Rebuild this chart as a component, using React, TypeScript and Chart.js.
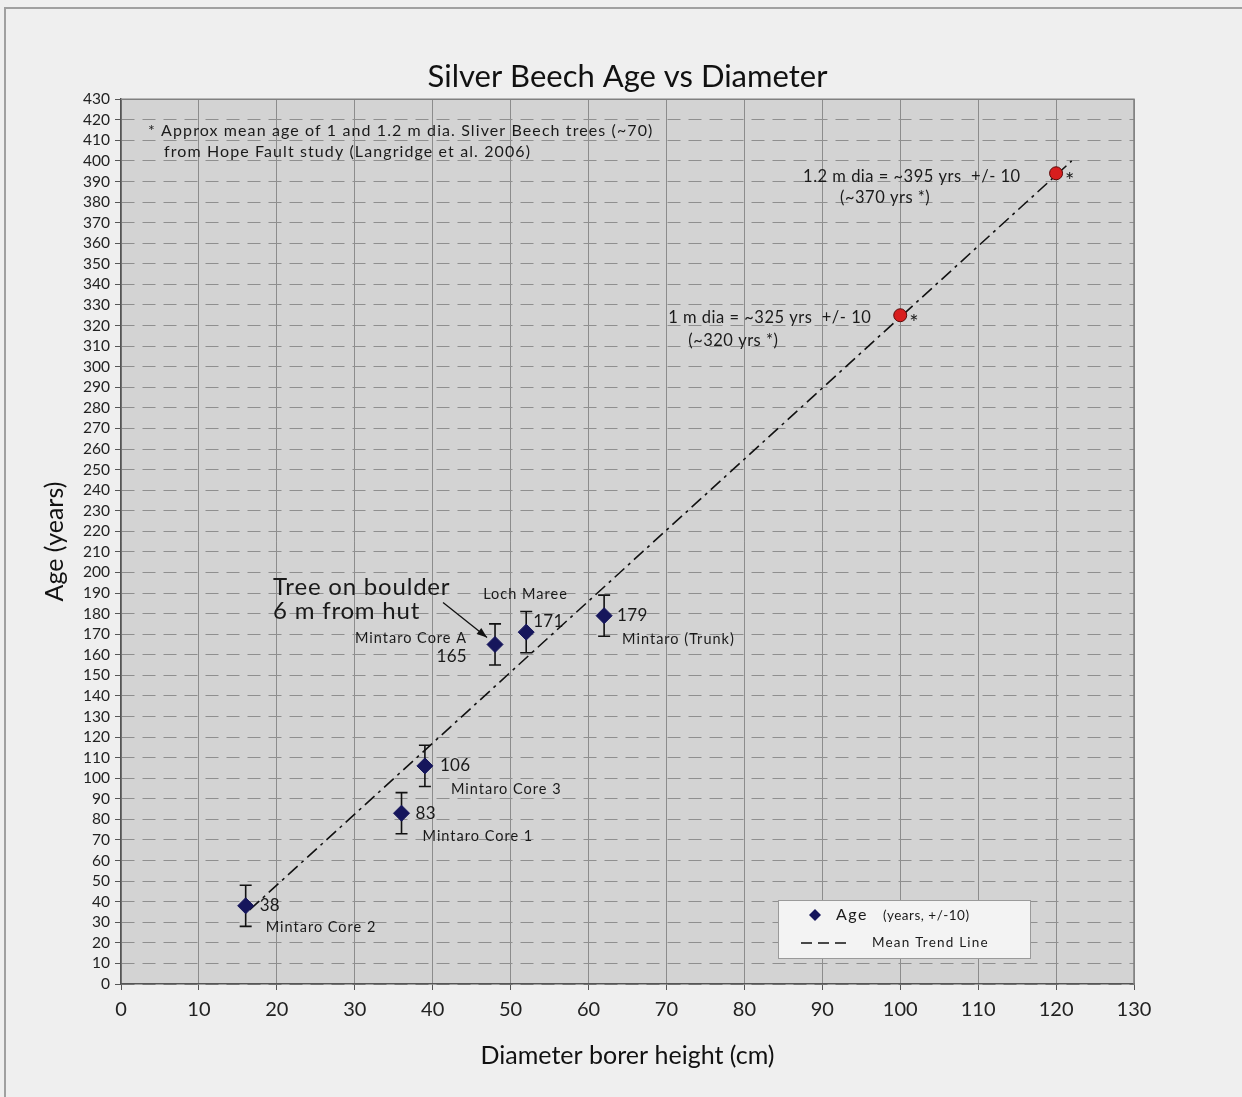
import React, { useEffect, useRef } from 'react';
import { Chart, registerables } from 'chart.js';

Chart.register(...registerables);

// ---------- data ----------
const diameters = [16, 36, 39, 48, 52, 62];
const ages = [38, 83, 106, 165, 171, 179];
const siteNames = ['Mintaro Core 2', 'Mintaro Core 1', 'Mintaro Core 3', 'Mintaro Core A', 'Loch Maree', 'Mintaro (Trunk)'];
const ageError = 10;

const projectedDiameters = [100, 120];
const projectedAges = [325, 394];
const projectedNotes = ['1 m dia = ~325 yrs  +/- 10', '1.2 m dia = ~395 yrs  +/- 10'];
const projectedRefNotes = ['(~320 yrs *)', '(~370 yrs *)'];

const trendDiameters = [16.5, 122];
const trendAges = [36, 400];

const xMin = 0;
const xMax = 130;
const xStep = 10;
const yMin = 0;
const yMax = 430;
const yStep = 10;

const titleText = 'Silver Beech Age vs Diameter';
const xTitle = 'Diameter borer height (cm)';
const yTitle = 'Age (years)';
const footnoteLines = ['* Approx mean age of 1 and 1.2 m dia. Sliver Beech trees (~70)', 'from Hope Fault study (Langridge et al. 2006)'];
const calloutLines = ['Tree on boulder', '6 m from hut'];
const calloutIndex = 3;
const legendAge = 'Age';
const legendAgeNote = '(years, +/-10)';
const legendTrend = 'Mean Trend Line';

// ---------- styles ----------
const FONT = 'Lato, "Open Sans", "Liberation Sans", sans-serif';
const valueLabelOffsets: [number, number, CanvasTextAlign][] = [
  [14, 0, 'left'], [14, 0, 'left'], [15, 0, 'left'], [-28, 12, 'right'], [7, -11, 'left'], [13, 0, 'left'],
];
const nameLabelOffsets: [number, number, CanvasTextAlign][] = [
  [20, 22, 'left'], [21, 23, 'left'], [26, 23, 'left'], [-28, -6, 'right'], [-43, -38, 'left'], [18, 24, 'left'],
];
const projNoteOffsets: [number, number][] = [[-232, 2], [-253, 3]];
const projRefOffsets: [number, number][] = [[-212, 25], [-216, 24]];

const setSpacing = (ctx: any, px: number) => {
  if ('letterSpacing' in ctx) ctx.letterSpacing = `${px}px`;
};

const backgroundPlugin = {
  id: 'backgroundPlugin',
  beforeDraw(chart: any) {
    const { ctx, width, height, chartArea: a } = chart;
    ctx.save();
    ctx.fillStyle = '#efefef';
    ctx.fillRect(0, 0, width, height);
    ctx.strokeStyle = '#a0a0a0';
    ctx.lineWidth = 2;
    ctx.beginPath();
    ctx.moveTo(5, height);
    ctx.lineTo(5, 8);
    ctx.lineTo(width, 8);
    ctx.stroke();
    ctx.fillStyle = '#d3d3d3';
    ctx.fillRect(a.left, a.top, a.right - a.left, a.bottom - a.top);
    ctx.restore();
  },
  beforeDatasetsDraw(chart: any) {
    const { ctx, chartArea: a } = chart;
    const xs = chart.scales.x;
    const ys = chart.scales.y;
    ctx.save();
    ctx.strokeStyle = '#808080';
    ctx.lineWidth = 1.5;
    ctx.beginPath();
    ctx.moveTo(a.left, a.top);
    ctx.lineTo(a.right, a.top);
    ctx.lineTo(a.right, a.bottom);
    ctx.stroke();
    // error bars
    ctx.strokeStyle = '#111';
    ctx.lineWidth = 1.6;
    diameters.forEach((d, i) => {
      const px = xs.getPixelForValue(d);
      const t = ys.getPixelForValue(ages[i] + ageError);
      const b = ys.getPixelForValue(ages[i] - ageError);
      ctx.beginPath();
      ctx.moveTo(px, t);
      ctx.lineTo(px, b);
      ctx.moveTo(px - 6, t);
      ctx.lineTo(px + 6, t);
      ctx.moveTo(px - 6, b);
      ctx.lineTo(px + 6, b);
      ctx.stroke();
    });
    ctx.restore();
  },
  afterDatasetsDraw(chart: any) {
    const { ctx, chartArea: a } = chart;
    const xs = chart.scales.x;
    const ys = chart.scales.y;
    ctx.save();
    ctx.fillStyle = '#1a1a1a';
    ctx.textBaseline = 'middle';
    // point labels
    diameters.forEach((d, i) => {
      const px = xs.getPixelForValue(d);
      const py = ys.getPixelForValue(ages[i]);
      const [vx, vy, va] = valueLabelOffsets[i];
      ctx.font = `17px ${FONT}`;
      setSpacing(ctx, 0.3);
      ctx.textAlign = va;
      ctx.fillText(String(ages[i]), px + vx, py + vy);
      const [nx, ny, na] = nameLabelOffsets[i];
      ctx.font = `14.5px ${FONT}`;
      setSpacing(ctx, 1);
      ctx.textAlign = na;
      ctx.fillText(siteNames[i], px + nx, py + ny);
    });
    // projected notes
    projectedDiameters.forEach((d, i) => {
      const px = xs.getPixelForValue(d);
      const py = ys.getPixelForValue(projectedAges[i]);
      ctx.textAlign = 'left';
      ctx.textBaseline = 'middle';
      ctx.font = `16.5px ${FONT}`;
      setSpacing(ctx, 0.5);
      ctx.fillText(projectedNotes[i], px + projNoteOffsets[i][0], py + projNoteOffsets[i][1]);
      ctx.fillText(projectedRefNotes[i], px + projRefOffsets[i][0], py + projRefOffsets[i][1]);
      ctx.font = `22px ${FONT}`;
      ctx.textBaseline = 'alphabetic';
      ctx.fillText('*', px + 9, py + 15);
    });
    ctx.textBaseline = 'middle';
    // footnote
    ctx.font = `16px ${FONT}`;
    setSpacing(ctx, 1.1);
    ctx.textAlign = 'left';
    ctx.fillText(footnoteLines[0], a.left + 27, a.top + 32);
    ctx.fillText(footnoteLines[1], a.left + 43, a.top + 53);
    // callout
    const cx = xs.getPixelForValue(diameters[calloutIndex]);
    const cy = ys.getPixelForValue(ages[calloutIndex]);
    ctx.font = `24px ${FONT}`;
    setSpacing(ctx, 0.8);
    ctx.fillText(calloutLines[0], cx - 222, cy - 57);
    ctx.fillText(calloutLines[1], cx - 222, cy - 33);
    const sx = cx - 52, sy = cy - 42, ex = cx - 8, ey = cy - 7;
    ctx.strokeStyle = '#111';
    ctx.lineWidth = 1.3;
    ctx.beginPath();
    ctx.moveTo(sx, sy);
    ctx.lineTo(ex, ey);
    ctx.stroke();
    const ang = Math.atan2(ey - sy, ex - sx);
    ctx.beginPath();
    ctx.moveTo(ex, ey);
    ctx.lineTo(ex - 11 * Math.cos(ang - 0.35), ey - 11 * Math.sin(ang - 0.35));
    ctx.lineTo(ex - 11 * Math.cos(ang + 0.35), ey - 11 * Math.sin(ang + 0.35));
    ctx.closePath();
    ctx.fillStyle = '#111';
    ctx.fill();
    // legend box
    const lx = a.right - 356, ly = a.bottom - 84, lw = 252, lh = 58;
    ctx.fillStyle = '#f3f3f3';
    ctx.fillRect(lx, ly, lw, lh);
    ctx.strokeStyle = '#9a9a9a';
    ctx.lineWidth = 1;
    ctx.strokeRect(lx + 0.5, ly + 0.5, lw, lh);
    ctx.fillStyle = '#16165c';
    ctx.beginPath();
    ctx.moveTo(lx + 37, ly + 9);
    ctx.lineTo(lx + 43, ly + 15);
    ctx.lineTo(lx + 37, ly + 21);
    ctx.lineTo(lx + 31, ly + 15);
    ctx.closePath();
    ctx.fill();
    ctx.fillStyle = '#1a1a1a';
    ctx.font = `16px ${FONT}`;
    setSpacing(ctx, 1.5);
    ctx.fillText(legendAge, lx + 58, ly + 15);
    ctx.font = `13.5px ${FONT}`;
    setSpacing(ctx, 0.5);
    ctx.fillText(legendAgeNote, lx + 105, ly + 16);
    setSpacing(ctx, 1.2);
    ctx.fillText(legendTrend, lx + 94, ly + 43);
    ctx.strokeStyle = '#111';
    ctx.lineWidth = 1.6;
    ctx.setLineDash([11, 6]);
    ctx.beginPath();
    ctx.moveTo(lx + 23, ly + 43);
    ctx.lineTo(lx + 73, ly + 43);
    ctx.stroke();
    ctx.restore();
  },
};

export default function App() {
  const ref = useRef<HTMLCanvasElement>(null);
  useEffect(() => {
    document.body.style.margin = '0';
    if (!ref.current) return;
    const chart = new Chart(ref.current, {
      type: 'scatter',
      data: {
        datasets: [
          {
            label: 'Age',
            data: diameters.map((d, i) => ({ x: d, y: ages[i] })),
            pointStyle: 'rectRot',
            pointRadius: 8,
            backgroundColor: '#16165c',
            borderColor: '#16165c',
            borderWidth: 1,
          },
          {
            label: 'Projected',
            data: projectedDiameters.map((d, i) => ({ x: d, y: projectedAges[i] })),
            pointStyle: 'circle',
            pointRadius: 6.5,
            backgroundColor: '#d81e1e',
            borderColor: '#5a0a0a',
            borderWidth: 1,
          },
          {
            label: 'Mean Trend Line',
            type: 'line',
            data: trendDiameters.map((d, i) => ({ x: d, y: trendAges[i] })),
            showLine: true,
            borderColor: '#111',
            borderWidth: 1.6,
            borderDash: [13, 5, 3, 5],
            pointRadius: 0,
            fill: false,
          } as any,
        ],
      },
      options: {
        animation: false,
        responsive: false,
        maintainAspectRatio: false,
        layout: { padding: { left: 0, right: 108, top: 0, bottom: 0 } },
        plugins: {
          legend: { display: false },
          tooltip: { enabled: false },
          title: {
            display: true,
            fullSize: false,
            text: titleText,
            color: '#111',
            font: { size: 31, family: FONT, weight: 'normal' },
            padding: { top: 58, bottom: 4 },
          },
        },
        scales: {
          x: {
            type: 'linear',
            min: xMin,
            max: xMax,
            ticks: { stepSize: xStep, color: '#222', font: { size: 20, family: FONT }, padding: 8 },
            grid: { color: '#8c8c8c', lineWidth: 1, tickLength: 6, tickColor: '#555' },
            border: { color: '#555', width: 1.5 },
            title: { display: true, text: xTitle, color: '#111', font: { size: 25, family: FONT }, padding: { top: 4, bottom: 26 } },
            afterFit: (s: any) => { s.height = 113; },
          },
          y: {
            type: 'linear',
            min: yMin,
            max: yMax,
            ticks: { stepSize: yStep, autoSkip: false, color: '#222', font: { size: 15.5, family: FONT }, padding: 5 },
            grid: { color: '#8f8f8f', lineWidth: 1, tickLength: 6, tickColor: '#555', tickBorderDash: [] },
            border: { color: '#555', width: 1.5, dash: [13, 8] },
            title: { display: true, text: yTitle, color: '#111', font: { size: 25, family: FONT }, padding: { top: 40, bottom: 0 } },
            afterFit: (s: any) => { s.width = 121; },
          },
        },
      },
      plugins: [backgroundPlugin],
    });
    return () => chart.destroy();
  }, []);
  return (
    <div style={{ width: 1242, height: 1097 }}>
      <canvas ref={ref} width={1242} height={1097} style={{ display: 'block', width: 1242, height: 1097 }} />
    </div>
  );
}
